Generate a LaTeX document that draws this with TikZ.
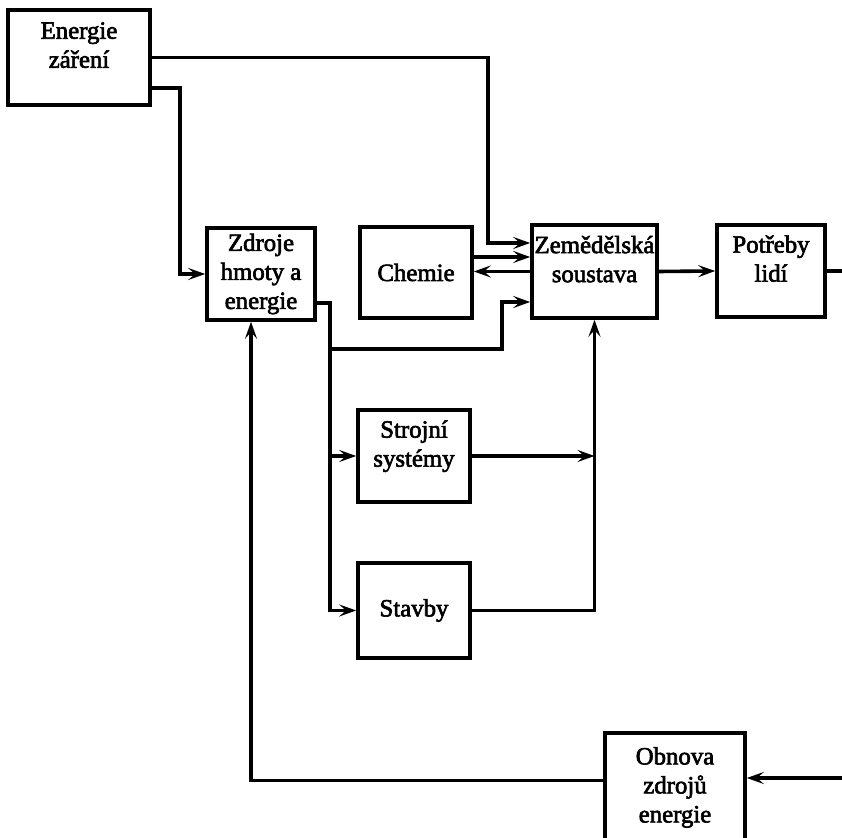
\documentclass[tikz,border=0pt]{standalone}
\usepackage{fontspec}
\setmainfont{Liberation Serif}
\newfontfamily\boxfont[FakeBold=2.5]{Liberation Serif}
\usetikzlibrary{arrows.meta,positioning,calc}

\begin{document}
\begin{tikzpicture}[
x=0.5pt, y=-0.5pt,
box/.style={draw, line width=1.8pt, minimum width=54pt, minimum height=46pt, inner sep=1pt, align=center, font=\boxfont\fontsize{12.4}{14.5}\selectfont},
arr/.style={line width=1.8pt, -{Stealth[length=8.5pt, width=6pt, inset=3.4pt]}},
wire/.style={line width=1.8pt},
]
\useasboundingbox (0,0) rectangle (842,838);

% boxes
\node[box, minimum width=71pt, minimum height=47.5pt] (ener) at (79,57.5) {Energie\\z\'a\v{r}en\'i\\[-2pt]\mbox{}};
\node[box] (zdroje) at (261,274) {Zdroje\\hmoty a\\energie};
\node[box, minimum width=56pt, minimum height=45.5pt] (chemie) at (416,272.5) {Chemie};
\node[box, minimum width=62.5pt, minimum height=46.5pt] (zem) at (594.5,271.5) {Zem\v{e}d\v{e}lsk\'a\\soustava\\[-2pt]\mbox{}};
\node[box] (potreby) at (771,271) {Pot\v{r}eby\\lid\'i\\[-2pt]\mbox{}};
\node[box, minimum width=56pt] (strojni) at (414,456) {Strojn\'i\\syst\'emy\\[-2pt]\mbox{}};
\node[box, minimum width=56pt, minimum height=47.5pt] (stavby) at (414,610.5) {Stavby};
\node[box, minimum width=70pt, minimum height=54.5pt] (obnova) at (675,787.5) {Obnova\\zdroj\r{u}\\energie};

\coordinate (out) at (842,271);
\coordinate (in) at (842,778);

% connectors
\draw[arr] (ener.east) -| (488,243) -- ([yshift=14.25pt]zem.west);
\draw[arr] ([yshift=-15.25pt]ener.east) -| (180,274) -- (zdroje.west);
\draw[arr] ([yshift=7.75pt]chemie.east) -- ([yshift=7.75pt]chemie.east -| zem.west);
\draw[arr] (zem.west) -- (zem.west -| chemie.east);
\draw[arr] ([yshift=-14.5pt]zdroje.east) -| (330,610.5) -- (stavby.west);
\draw[arr] (330,349) -| (502,302) -- ([yshift=-15.25pt]zem.west);
\draw[arr] (330,456) -- (strojni.west);
\draw[arr] (strojni.east) -- (strojni.east -| zem.south);
\draw[arr] (stavby.east) -| (zem.south);
\draw[arr] (zem.east) -- (potreby.west);
\draw[wire] (potreby.east) -- (out);
\draw[arr] (in) -- ([yshift=4.75pt]obnova.east);
\draw[arr] ([yshift=3.5pt]obnova.west) -| ([xshift=-5pt]zdroje.south);
\end{tikzpicture}
\end{document}
